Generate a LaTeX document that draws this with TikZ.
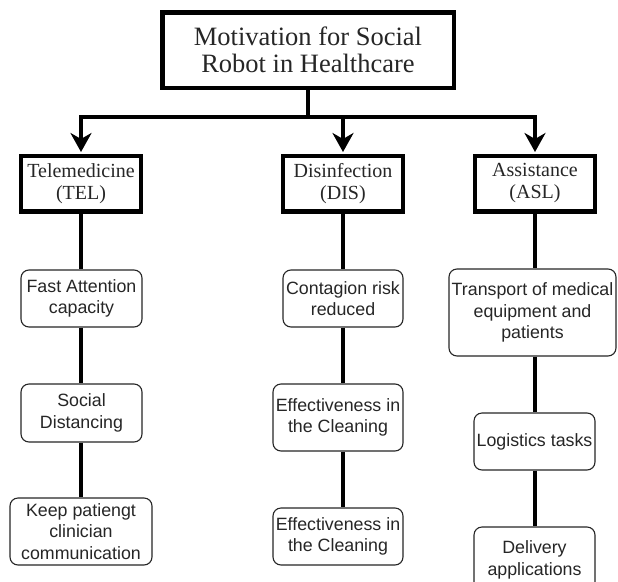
\documentclass[tikz,border=0pt]{standalone}
\usepackage{fontspec}
\setmainfont{Liberation Serif}
\newfontfamily\labelsans{Liberation Sans}
\usetikzlibrary{arrows.meta}
\definecolor{inkgray}{HTML}{262626}
\tikzset{
  headbox/.style={draw, line width=4.5pt, fill=white, align=center, inner sep=0pt,
    minimum width=291.5pt, minimum height=75.5pt,
    font=\fontsize{26.5}{27}\selectfont, text=inkgray},
  catbox/.style={draw, line width=4.5pt, fill=white, align=center, inner sep=0pt,
    minimum width=120pt, minimum height=55.5pt,
    font=\fontsize{20}{22}\selectfont, text=inkgray},
  itembox/.style={draw=inkgray, line width=1.1pt, rounded corners=8pt, fill=white,
    align=center, inner sep=0pt,
    font=\labelsans\fontsize{17.8}{21.5}\selectfont, text=inkgray},
  link/.style={line width=4.5pt},
  feed/.style={line width=4.5pt, shorten >=1.5pt,
    -{Stealth[length=19pt, width=21pt, inset=6pt]}},
}
\begin{document}
\begin{tikzpicture}[x=1pt, y=-1pt]
\useasboundingbox (0,0) rectangle (618,581);
\clip (0,0) rectangle (618,581);

% branching point under the root
\coordinate (bus) at (308,117);

% root and categories
\node[headbox] (title) at (308,50) {Motivation for Social\\Robot in Healthcare};
\node[catbox] (tel) at (81,183.5) {Telemedicine\\(TEL)};
\node[catbox] (dis) at (343,183.5) {Disinfection\\(DIS)};
\node[catbox] (asl) at (535,183.5) {Assistance\\(ASL)};

% telemedicine items
\node[itembox, minimum width=121pt, minimum height=57pt] (fast) at (81.5,298.5) {Fast Attention\\capacity};
\node[itembox, minimum width=121pt, minimum height=58pt] (social) at (81.5,413) {Social\\Distancing};
\node[itembox, minimum width=142pt, minimum height=67pt] (keep) at (81,531.5) {Keep patiengt\\clinician\\communication};

% disinfection items
\node[itembox, minimum width=120pt, minimum height=57pt] (contag) at (343,298.5) {Contagion risk\\reduced};
\node[itembox, minimum width=130pt, minimum height=67pt] (clean1) at (338,417.5) {Effectiveness in\\the Cleaning};
\node[itembox, minimum width=130pt, minimum height=57pt] (clean2) at (338,536.5) {Effectiveness in\\the Cleaning};

% assistance items; the last box runs past the lower edge
\node[itembox, minimum width=167pt, minimum height=87pt] (transport) at (532.5,312.5) {Transport of medical\\equipment and\\patients};
\node[itembox, minimum width=121pt, minimum height=57pt] (logist) at (534.5,441.5) {Logistics tasks};
\node[itembox, minimum width=121pt, minimum height=66pt, text depth=4pt] (deliv) at (534.5,560) {Delivery\\applications};

% tree connectors
\draw[link] (title.south) -- (bus);
\draw[feed] (bus) -| (tel.north);
\draw[feed] (bus) -| (dis.north);
\draw[feed] (bus) -| (asl.north);

\draw[link] (tel.south) -- (tel.south |- fast.north);
\draw[link] (fast.south -| tel.south) -- (tel.south |- social.north);
\draw[link] (social.south -| tel.south) -- (tel.south |- keep.north);

\draw[link] (dis.south) -- (dis.south |- contag.north);
\draw[link] (contag.south -| dis.south) -- (dis.south |- clean1.north);
\draw[link] (clean1.south -| dis.south) -- (dis.south |- clean2.north);

\draw[link] (asl.south) -- (asl.south |- transport.north);
\draw[link] (transport.south -| asl.south) -- (asl.south |- logist.north);
\draw[link] (logist.south -| asl.south) -- (asl.south |- deliv.north);
\end{tikzpicture}
\end{document}
